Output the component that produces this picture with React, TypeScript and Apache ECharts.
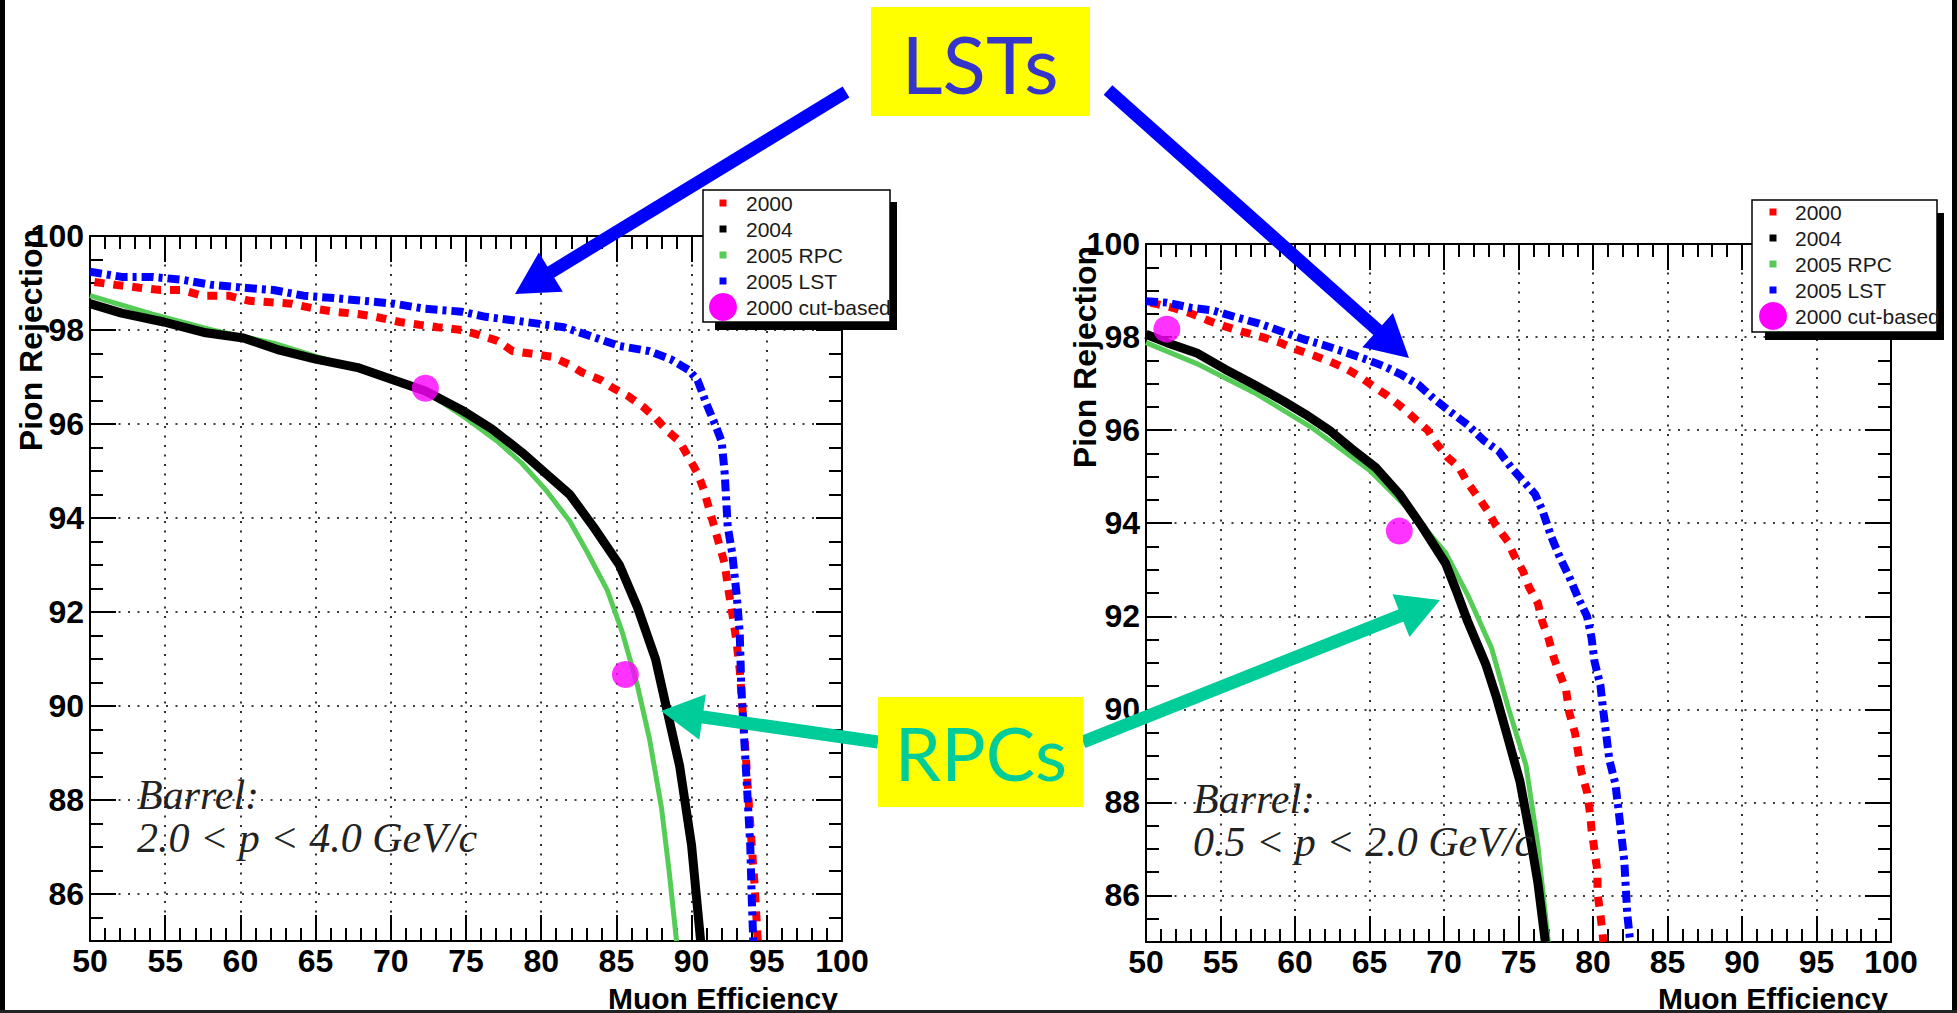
import React, { useEffect, useRef } from "react";
import * as echarts from "echarts";

// ---------------- data ----------------
// Left panel: Barrel, 2.0 < p < 4.0 GeV/c   [muon efficiency %, pion rejection %]
const left2000: [number, number][] = [
  [50.3, 99.02], [51.7, 98.96], [53.3, 98.9], [54.7, 98.85], [56.1, 98.85], [57.5, 98.73], [59.2, 98.73],
  [60.6, 98.62], [62, 98.59], [63.4, 98.56], [65, 98.45], [66.2, 98.39], [67.8, 98.34], [69, 98.28],
  [70.6, 98.17], [71.9, 98.11], [73.1, 98.06], [74.7, 98.0], [75.9, 97.89], [77.1, 97.77], [78.1, 97.55],
  [79.5, 97.49], [80.7, 97.43], [81.9, 97.26], [82.7, 97.1], [84, 96.93], [84.8, 96.76], [85.8, 96.59],
  [86.8, 96.36], [87.6, 96.13], [88.4, 95.85], [89.2, 95.63], [89.8, 95.29], [90.4, 94.95], [90.8, 94.61],
  [91.2, 94.16], [91.8, 93.48], [92.2, 93.03], [92.4, 92.57], [92.8, 91.78], [93.0, 91.33], [93.2, 90.77],
  [93.4, 89.86], [93.6, 88.96], [93.8, 87.94], [94.0, 87.03], [94.2, 86.13], [94.4, 85.0],
];
const left2004: [number, number][] = [
  [50, 98.56], [52.1, 98.36], [54.9, 98.17], [57.7, 97.94], [60.2, 97.83], [62.6, 97.57], [65, 97.38],
  [67.8, 97.2], [69.8, 96.98], [72.3, 96.7], [74.7, 96.3], [76.7, 95.9], [78.7, 95.4], [80.3, 94.95],
  [81.9, 94.5], [83.5, 93.8], [85.2, 93.0], [86.4, 92.1], [87.6, 91.0], [88.4, 89.86], [89.2, 88.73],
  [90, 87.03], [90.6, 85.0],
];
const left2005RPC: [number, number][] = [
  [50, 98.73], [54.1, 98.34], [58.1, 98.0], [62.2, 97.72], [66.2, 97.32], [69.8, 96.96], [72.3, 96.7],
  [74.7, 96.19], [77.1, 95.63], [78.7, 95.17], [80.3, 94.6], [81.9, 93.93], [83.1, 93.25], [84.4, 92.46],
  [85.4, 91.56], [86.4, 90.43], [87.2, 89.3], [88, 87.83], [88.5, 86.5], [89, 85.0],
];
const left2005LST: [number, number][] = [
  [50, 99.24], [52.1, 99.13], [54.1, 99.13], [56.1, 99.07], [58.1, 98.96], [60.2, 98.9], [62.2, 98.85],
  [64.2, 98.73], [66.2, 98.68], [68.2, 98.62], [70.2, 98.56], [72.3, 98.45], [74.7, 98.39], [76.3, 98.28],
  [78.3, 98.2], [79.9, 98.13], [81.5, 98.06], [83.1, 97.89], [85.2, 97.66], [87.2, 97.55], [88.6, 97.38],
  [89.8, 97.15], [90.4, 96.93], [91, 96.42], [91.6, 95.96], [92, 95.63], [92.2, 94.95], [92.4, 93.82],
  [92.7, 93.25], [93.0, 92.35], [93.2, 91.56], [93.3, 90.43], [93.5, 89.3], [93.7, 88.17], [93.9, 87.03],
  [94.0, 85.9], [94.1, 85.0],
];
const leftCutBased: [number, number][] = [[72.3, 96.76], [85.6, 90.67]];

// Right panel: Barrel, 0.5 < p < 2.0 GeV/c
const right2000: [number, number][] = [
  [50.3, 98.74], [51.8, 98.63], [53, 98.51], [54.3, 98.34], [55.3, 98.23], [56.5, 98.11], [57.8, 98.0],
  [59.0, 97.88], [60.0, 97.74], [61.3, 97.6], [62.3, 97.48], [63.5, 97.31], [64.4, 97.14], [65.4, 96.91],
  [66.2, 96.74], [67.1, 96.51], [68.1, 96.23], [68.9, 96.0], [69.5, 95.71], [70.2, 95.43], [71.0, 95.2],
  [71.6, 94.86], [72.4, 94.51], [72.9, 94.28], [73.5, 93.94], [74.3, 93.6], [74.7, 93.31], [75.3, 92.97],
  [75.7, 92.63], [76.3, 92.28], [76.6, 91.88], [77.0, 91.54], [77.4, 91.08], [77.8, 90.74], [78.2, 90.4],
  [78.4, 89.94], [78.8, 89.48], [79.0, 89.08], [79.2, 88.68], [79.6, 88.22], [79.8, 87.77], [79.9, 87.42],
  [80.1, 86.97], [80.3, 86.51], [80.3, 86.05], [80.5, 85.59], [80.7, 85.0],
];
const right2004: [number, number][] = [
  [50, 98.06], [51.4, 97.88], [53.4, 97.66], [55.3, 97.31], [57.3, 96.97], [59.2, 96.63], [60.7, 96.34],
  [62.3, 96.0], [63.8, 95.6], [65.4, 95.2], [67.0, 94.63], [68.5, 93.94], [70.1, 93.14], [70.8, 92.57],
  [71.6, 91.88], [72.8, 90.97], [73.5, 90.28], [74.3, 89.37], [75.1, 88.45], [75.7, 87.42], [76.3, 86.28],
  [76.8, 85.0],
];
const right2005RPC: [number, number][] = [
  [50, 97.88], [53.4, 97.43], [57.3, 96.8], [61.1, 96.06], [65.0, 95.14], [67.7, 94.28], [70.1, 93.37],
  [71.6, 92.45], [73.2, 91.31], [74.3, 90.05], [75.5, 88.8], [76.3, 87.08], [77.0, 85.0],
];
const right2005LST: [number, number][] = [
  [50, 98.77], [51.4, 98.74], [53.0, 98.63], [54.5, 98.57], [56.1, 98.42], [57.6, 98.29], [59.2, 98.11],
  [60.7, 97.94], [61.9, 97.83], [63.5, 97.66], [64.6, 97.54], [66.0, 97.37], [67.1, 97.2], [68.3, 96.97],
  [69.3, 96.68], [70.4, 96.4], [71.6, 96.11], [72.7, 95.77], [73.7, 95.54], [74.5, 95.2], [75.3, 94.91],
  [76.1, 94.63], [76.6, 94.28], [77.2, 93.71], [77.8, 93.25], [78.4, 92.85], [79.0, 92.4], [79.6, 92.0],
  [79.9, 91.54], [80.1, 91.03], [80.5, 90.51], [80.7, 89.94], [80.9, 89.42], [81.1, 88.91], [81.5, 88.4],
  [81.7, 87.88], [81.9, 87.31], [82.1, 86.74], [82.2, 86.17], [82.3, 85.6], [82.5, 85.0],
];
const rightCutBased: [number, number][] = [[51.4, 98.17], [67.0, 93.83]];

const seriesNames = ["2000", "2004", "2005 RPC", "2005 LST", "2000 cut-based"];
const seriesColors = ["#ff0000", "#000000", "#55cc55", "#0000ff", "#ff00ff"];
const panelTexts = [
  ["Barrel:", "2.0 < p < 4.0 GeV/c"],
  ["Barrel:", "0.5 < p < 2.0 GeV/c"],
];
const xAxisTitle = "Muon Efficiency";
const yAxisTitle = "Pion Rejection";
const xRange = [50, 100, 5];
const yRange = [85, 100, 2];

// ---------------- layout / styles ----------------
const SANS = "'Liberation Sans', Arial, Helvetica, sans-serif";
const SERIF = "'Liberation Serif', 'Times New Roman', serif";
const grids = [
  { left: 90, top: 236, width: 752, height: 705 },
  { left: 1146, top: 244, width: 745, height: 698 },
];
const gridLine = { color: "#000", width: 1.6, type: [2, 7.5] as number[] };
const frame = { show: true, onZero: false, lineStyle: { color: "#000", width: 2 } };
const tickStyle = { color: "#000", width: 2 };
const labelStyle = { color: "#000", fontSize: 32, fontWeight: "bold" as const, fontFamily: SANS };

function xAxes(gridIndex: number) {
  const base = {
    type: "value" as const,
    gridIndex,
    min: xRange[0],
    max: xRange[1],
    interval: xRange[2],
    axisLine: frame,
    axisTick: { show: true, inside: true, length: 26, lineStyle: tickStyle },
    minorTick: { show: true, splitNumber: 5, length: 13, lineStyle: tickStyle },
    minorSplitLine: { show: false },
  };
  return [
    { ...base, position: "bottom", axisLabel: { ...labelStyle, margin: 4 }, splitLine: { show: true, lineStyle: gridLine } },
    { ...base, position: "top", axisLabel: { show: false }, splitLine: { show: false } },
  ];
}

function yAxes(gridIndex: number) {
  const minor = (position: string) => ({
    type: "value" as const,
    gridIndex,
    position,
    min: yRange[0],
    max: yRange[1],
    interval: 0.5,
    axisLine: frame,
    axisTick: { show: true, inside: true, length: 13, lineStyle: tickStyle },
    axisLabel: { show: false },
    splitLine: { show: false },
  });
  // inverted, negated axis so that the major ticks start from 100 and fall on even values
  const major = (position: string, labels: boolean) => ({
    type: "value" as const,
    gridIndex,
    position,
    inverse: true,
    min: -yRange[1],
    max: -yRange[0],
    interval: yRange[2],
    axisLine: { show: false },
    axisTick: { show: true, inside: true, length: 26, lineStyle: tickStyle },
    axisLabel: labels
      ? {
          ...labelStyle,
          margin: 6,
          formatter: (v: number) => (Math.abs(-v - yRange[0]) < 1e-6 ? "" : String(-v)),
        }
      : { show: false },
    splitLine: { show: labels, lineStyle: gridLine },
  });
  return [minor("left"), major("left", true), minor("right"), major("right", false)];
}

function panelSeries(p: number, d2000: any, d2004: any, dRPC: any, dLST: any, dCut: any) {
  const xi = p * 2;
  const yi = p * 4;
  const common = { type: "line" as const, xAxisIndex: xi, yAxisIndex: yi, showSymbol: false, symbol: "none", silent: true };
  return [
    { ...common, name: seriesNames[2], data: dRPC, z: 3, lineStyle: { color: seriesColors[2], width: 5 } },
    { ...common, name: seriesNames[1], data: d2004, z: 4, lineStyle: { color: seriesColors[1], width: 9 } },
    { ...common, name: seriesNames[0], data: d2000, z: 5, lineStyle: { color: seriesColors[0], width: 8, type: [10, 9] } },
    { ...common, name: seriesNames[3], data: dLST, z: 6, lineStyle: { color: seriesColors[3], width: 8, type: [12, 5, 4, 5] } },
    {
      type: "scatter" as const,
      name: seriesNames[4],
      xAxisIndex: xi,
      yAxisIndex: yi,
      data: dCut,
      symbol: "circle",
      symbolSize: 27,
      itemStyle: { color: seriesColors[4] },
      z: 8,
      silent: true,
    },
  ];
}

function txt(text: string, x: number, y: number, size: number, opts: any = {}) {
  const align = opts.align || "left";
  const valign = opts.valign || "middle";
  return {
    type: "text",
    x,
    y,
    rotation: opts.rotation || 0,
    z: opts.z || 50,
    style: {
      text,
      fill: opts.color || "#000",
      fontSize: size,
      fontWeight: opts.weight || "normal",
      fontStyle: opts.style || "normal",
      fontFamily: opts.family || SANS,
      align,
      verticalAlign: valign,
      textAlign: align,
      textVerticalAlign: valign,
    },
  };
}

function legendBox(bx: number, by: number, bw: number, bh: number, sx: number, sy: number, mx: number, tx: number, y0: number) {
  const els: any[] = [
    { type: "rect", z: 60, shape: { x: sx, y: sy, width: bx + bw + 7 - sx, height: by + bh + 8 - sy }, style: { fill: "#000" } },
    { type: "rect", z: 61, shape: { x: bx, y: by, width: bw, height: bh }, style: { fill: "#fff", stroke: "#000", lineWidth: 1.5 } },
  ];
  seriesNames.forEach((n, i) => {
    const y = y0 + i * 26;
    if (i < 4) {
      els.push({ type: "rect", z: 62, shape: { x: mx - 3.5, y: y - 3.5, width: 7, height: 7 }, style: { fill: seriesColors[i] } });
    } else {
      els.push({ type: "circle", z: 62, shape: { cx: mx, cy: y, r: 14 }, style: { fill: seriesColors[i] } });
    }
    els.push(txt(n, tx, y, 21, { z: 63, color: "#1a1a1a" }));
  });
  return els;
}

function arrow(tail: number[], tip: number[], color: string) {
  const HL = 42;
  const HW = 23;
  const dx = tip[0] - tail[0];
  const dy = tip[1] - tail[1];
  const L = Math.hypot(dx, dy);
  const ux = dx / L;
  const uy = dy / L;
  const nx = -uy;
  const ny = ux;
  const bx = tip[0] - ux * HL;
  const by = tip[1] - uy * HL;
  return [
    {
      type: "line",
      z: 80,
      shape: { x1: tail[0], y1: tail[1], x2: bx + ux * 3, y2: by + uy * 3 },
      style: { stroke: color, lineWidth: 13, lineCap: "butt" },
    },
    {
      type: "polygon",
      z: 80,
      shape: { points: [[tip[0], tip[1]], [bx + nx * HW, by + ny * HW], [bx - nx * HW, by - ny * HW]] },
      style: { fill: color },
    },
  ];
}

export default function App() {
  const ref = useRef<HTMLDivElement>(null);
  useEffect(() => {
    if (!ref.current) return;
    const chart = echarts.init(ref.current, undefined, { renderer: "svg" });

    const graphic: any[] = [
      // page border
      { type: "rect", z: 90, shape: { x: 0, y: 0, width: 5, height: 1013 }, style: { fill: "#000" } },
      { type: "rect", z: 90, shape: { x: 1952, y: 0, width: 5, height: 1013 }, style: { fill: "#000" } },
      { type: "rect", z: 90, shape: { x: 0, y: 1010, width: 1957, height: 3 }, style: { fill: "#222" } },
      // axis titles
      txt(yAxisTitle, 31, 340, 32, { weight: "bold", rotation: Math.PI / 2, align: "center" }),
      txt(yAxisTitle, 1085, 357, 32, { weight: "bold", rotation: Math.PI / 2, align: "center" }),
      txt(xAxisTitle, 838, 998, 30, { weight: "bold", align: "right" }),
      txt(xAxisTitle, 1888, 998, 30, { weight: "bold", align: "right" }),
      // panel annotations
      txt(panelTexts[0][0], 137, 795, 42, { family: SERIF, style: "italic", color: "#222" }),
      txt(panelTexts[0][1], 137, 838, 42, { family: SERIF, style: "italic", color: "#222" }),
      txt(panelTexts[1][0], 1193, 799, 42, { family: SERIF, style: "italic", color: "#222" }),
      txt(panelTexts[1][1], 1193, 842, 42, { family: SERIF, style: "italic", color: "#222" }),
      // legends
      ...legendBox(703, 190, 187, 132, 715, 202, 723, 746, 203),
      ...legendBox(1752, 200, 185, 132, 1765, 213, 1773, 1795, 212),
      // arrows
      ...arrow([846, 92], [515, 294], "#0000ff"),
      ...arrow([1108, 90], [1409, 358], "#0000ff"),
      ...arrow([878, 742], [661, 711], "#00cc99"),
      ...arrow([1083, 742], [1440, 600], "#00cc99"),
      // callout boxes
      { type: "rect", z: 85, shape: { x: 871, y: 7, width: 219, height: 109 }, style: { fill: "#ffff00" } },
      txt("LSTs", 980, 63, 80, { align: "center", z: 86, color: "#3535cc", family: "'Comic Sans MS', Lato, 'Noto Sans', sans-serif" }),
      { type: "rect", z: 85, shape: { x: 878, y: 697, width: 205, height: 110 }, style: { fill: "#ffff00" } },
      txt("RPCs", 981, 752, 74, { align: "center", z: 86, color: "#00cc99", family: "'Comic Sans MS', Lato, 'Noto Sans', sans-serif" }),
    ];

    chart.setOption({
      animation: false,
      backgroundColor: "#fff",
      grid: grids.map((g) => ({ ...g, containLabel: false })),
      xAxis: [...xAxes(0), ...xAxes(1)],
      yAxis: [...yAxes(0), ...yAxes(1)],
      series: [
        ...panelSeries(0, left2000, left2004, left2005RPC, left2005LST, leftCutBased),
        ...panelSeries(1, right2000, right2004, right2005RPC, right2005LST, rightCutBased),
      ],
      graphic,
    });
    return () => chart.dispose();
  }, []);
  return (
    <div
      ref={ref}
      style={{ position: "fixed", left: 0, top: 0, width: 1957, height: 1013, background: "#fff" }}
    />
  );
}
